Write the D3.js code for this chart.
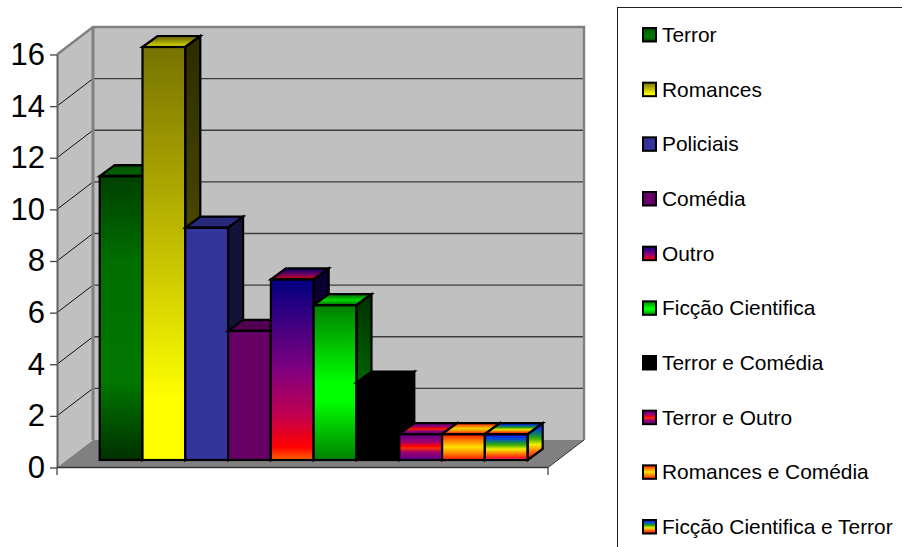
<!DOCTYPE html>
<html><head><meta charset="utf-8">
<script src="https://cdn.jsdelivr.net/npm/d3@7"></script>
<style>html,body{margin:0;padding:0;background:#fff;overflow:hidden}svg{display:block}text{font-family:"Liberation Sans",Arial,sans-serif;fill:#000}</style>
</head><body><svg id="c" width="902" height="547"></svg>
<script>
const categories=["Terror","Romances","Policiais","Comédia","Outro","Ficção Cientifica","Terror e Comédia","Terror e Outro","Romances e Comédia","Ficção Cientifica e Terror"];
const values=[11,16,9,5,7,6,3,1,1,1];
const yTicks=[0,2,4,6,8,10,12,14,16];
const fills=[
 [[0,"#004000"],[.3,"#006e00"],[.72,"#007800"],[1,"#003000"]],
 [[0,"#787200"],[.52,"#c8c400"],[.85,"#ffff00"],[1,"#ffff00"]],
 [[0,"#333399"],[1,"#333399"]],
 [[0,"#660066"],[1,"#660066"]],
 [[0,"#000080"],[.5,"#800080"],[.75,"#c00050"],[.93,"#ff0000"],[1,"#ff6600"]],
 [[0,"#008000"],[.5,"#00ff00"],[.62,"#00ff00"],[1,"#008000"]],
 [[0,"#000000"],[1,"#000000"]],
 [[0,"#5a0090"],[.3,"#a00070"],[.47,"#ff0000"],[.53,"#ff3000"],[.7,"#a00070"],[1,"#5a0090"]],
 [[0,"#ff1000"],[.25,"#ff8000"],[.5,"#ffe000"],[.75,"#ff8000"],[1,"#ff1000"]],
 [[0,"#3010c0"],[.15,"#0040f0"],[.3,"#108060"],[.42,"#40b000"],[.58,"#f0f000"],[.75,"#ff8000"],[.9,"#ff2020"],[1,"#f03080"]]
];
const W={fx:57,fr:548,dx:36,dy:-27.5,by:-7.5,depthX:15,depthY:-11};
const svg=d3.select("#c");
const y=d3.scaleLinear().domain([0,16]).range([467.5,54.5]);
const x=d3.scaleBand().domain(categories).range([99.7,527.7]);
const defs=svg.append("defs");
fills.forEach((s,i)=>{
  const g=defs.append("linearGradient").attr("id","g"+i).attr("x1",0).attr("y1",0).attr("x2",0).attr("y2",1);
  s.forEach(d=>g.append("stop").attr("offset",d[0]).attr("stop-color",d[1]));
});
const poly=p=>p.map(d=>d.join(",")).join(" ");
const y0=y(0),y16=y(16);
// walls
svg.append("polygon").attr("points",poly([[W.fx+W.dx,y16+W.dy],[W.fr+W.dx,y16+W.dy],[W.fr+W.dx,y0+W.dy],[W.fx+W.dx,y0+W.dy]])).attr("fill","#c0c0c0");
svg.append("polygon").attr("points",poly([[W.fx,y16],[W.fx+W.dx,y16+W.dy],[W.fx+W.dx,y0+W.dy],[W.fx,y0]])).attr("fill","#c0c0c0");
svg.append("polygon").attr("points",poly([[W.fx,y0],[W.fx+W.dx,y0+W.dy],[W.fr+W.dx,y0+W.dy],[W.fr,y0]])).attr("fill","#808080");
// gridlines
const inner=yTicks.filter(t=>t>0&&t<16);
svg.selectAll(".gb").data(inner).join("line").attr("x1",W.fx+W.dx).attr("x2",W.fr+W.dx).attr("y1",d=>y(d)+W.dy).attr("y2",d=>y(d)+W.dy).attr("stroke","#3c3c3c").attr("stroke-width",1.3);
svg.selectAll(".gl").data(inner).join("line").attr("x1",W.fx).attr("x2",W.fx+W.dx).attr("y1",d=>y(d)).attr("y2",d=>y(d)+W.dy).attr("stroke","#111").attr("stroke-width",1);
// wall borders
svg.append("polyline").attr("fill","none").attr("stroke","#808080").attr("stroke-width",2.4)
  .attr("points",poly([[W.fx,y16],[W.fx+W.dx,y16+W.dy],[W.fr+W.dx,y16+W.dy],[W.fr+W.dx,y0+W.dy]]));
svg.append("line").attr("x1",W.fx+W.dx).attr("x2",W.fx+W.dx).attr("y1",y16+W.dy).attr("y2",y0+W.dy).attr("stroke","#808080").attr("stroke-width",3);
svg.append("line").attr("x1",W.fr).attr("x2",W.fr+W.dx).attr("y1",y0).attr("y2",y0+W.dy).attr("stroke","#333").attr("stroke-width",1);
// bars
const bars=svg.selectAll(".bar").data(categories).join("g").attr("class","bar");
bars.each(function(c,i){
  const g=d3.select(this),l=x(c),r=l+x.bandwidth(),b=y(0)+W.by,t=y(values[i])+W.by,dx=W.depthX,dy=W.depthY;
  const side=[[r,t],[r+dx,t+dy],[r+dx,b+dy],[r,b]],top=[[l,t],[l+dx,t+dy],[r+dx,t+dy],[r,t]];
  const P=(pts,f,o)=>{g.append("polygon").attr("points",poly(pts)).attr("fill",f);if(o)g.append("polygon").attr("points",poly(pts)).attr("fill","#000").attr("opacity",o);};
  P(side,`url(#g${i})`,i>=7?0:.62);
  P(top,`url(#g${i})`,i>=7?.04:.2);
  g.append("rect").attr("x",l).attr("y",t).attr("width",x.bandwidth()).attr("height",b-t).attr("fill",`url(#g${i})`);
  [side,top].forEach(p=>g.append("polygon").attr("points",poly(p)).attr("fill","none").attr("stroke","#000").attr("stroke-width",2.2));
  g.append("rect").attr("x",l).attr("y",t).attr("width",x.bandwidth()).attr("height",b-t).attr("fill","none").attr("stroke","#000").attr("stroke-width",2.2);
});
// axes
const ax=svg.append("g").attr("transform",`translate(${W.fx},0)`).call(d3.axisLeft(y).tickValues(yTicks).tickSize(7).tickPadding(5).tickSizeOuter(0));
ax.selectAll("path").attr("stroke","#606060").attr("stroke-width",2);
ax.selectAll("line").attr("stroke","#444").attr("stroke-width",1.3);
ax.selectAll("text").style("font-family",'"Liberation Sans",Arial,sans-serif').attr("font-size",31).attr("fill","#000");
const axb=svg.append("g").attr("transform",`translate(0,${y0})`);
axb.append("line").attr("x1",W.fx).attr("x2",W.fr).attr("stroke","#333").attr("stroke-width",1.6);
axb.selectAll(".t").data([W.fx,W.fr]).join("line").attr("x1",d=>d).attr("x2",d=>d).attr("y1",0).attr("y2",7.5).attr("stroke","#444").attr("stroke-width",1.3);
// legend
svg.append("rect").attr("x",617.5).attr("y",7.5).attr("width",320).attr("height",580).attr("fill","#fff").attr("stroke","#222").attr("stroke-width",1);
const ly=d3.scalePoint().domain(categories).range([35,527]);
const lg=svg.selectAll(".lg").data(categories).join("g").attr("class","lg").attr("transform",c=>`translate(0,${ly(c)})`);
lg.append("rect").attr("x",643).attr("y",-7).attr("width",13).attr("height",13.5).attr("fill",(c,i)=>`url(#g${i})`).attr("stroke","#000").attr("stroke-width",2);
lg.append("text").attr("x",662).attr("y",7).attr("font-size",20.9).text(c=>c);
</script></body></html>
